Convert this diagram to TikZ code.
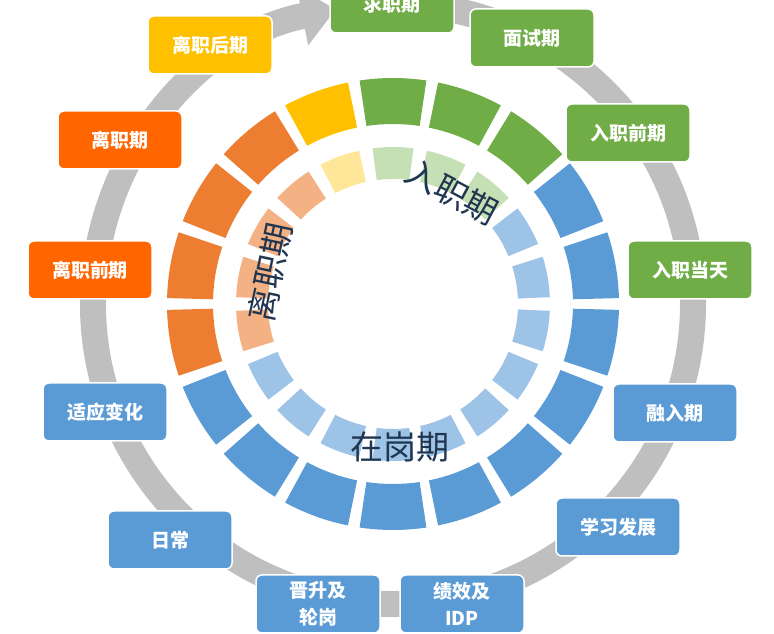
\documentclass[tikz,border=0pt]{standalone}
\usepackage{fontspec}
\setmainfont{Noto Sans CJK SC}
\usetikzlibrary{arrows.meta,calc}
\definecolor{cgreen}{HTML}{70AD47}
\definecolor{cblue}{HTML}{5B9BD5}
\definecolor{corange}{HTML}{ED7D31}
\definecolor{cred}{HTML}{FF6600}
\definecolor{cyellow}{HTML}{FFC000}
\definecolor{lgreen}{HTML}{C5E0B4}
\definecolor{lblue}{HTML}{9DC3E6}
\definecolor{lorange}{HTML}{F4B183}
\definecolor{lyellow}{HTML}{FFE699}
\definecolor{navy}{HTML}{1F3550}
\definecolor{ring}{HTML}{BFBFBF}
\begin{document}
\begin{tikzpicture}[x=1pt,y=1pt]
  \tikzset{
    box/.style={draw=white, line width=1.5pt, rounded corners=6pt, minimum width=124pt, minimum height=58pt, text=white, font=\fontsize{19}{27}\selectfont\bfseries, align=center},
    phase/.style={text=navy, font=\fontsize{33}{33}\selectfont},
  }
  \useasboundingbox (0,0) rectangle (774,634);
  \coordinate (c) at (393,330);
  % grey cycle
  \draw [ring, line width=26pt, -{Triangle[width=58pt,length=34pt]}] ($(c)+(85:300)$) arc (85:-259:300);
  % segments
  \foreach \k in {0,...,17}{
    \pgfmathsetmacro{\a}{90-20*\k}
    \ifnum\k<3 \def\co{cgreen}\def\ci{lgreen}\else
    \ifnum\k<13 \def\co{cblue}\def\ci{lblue}\else
    \ifnum\k<17 \def\co{corange}\def\ci{lorange}\else
    \def\co{cyellow}\def\ci{lyellow}\fi\fi\fi
    \fill [\co] ($(c)+(\a-8.5:226)$) arc (\a-8.5:\a+8.5:226) -- ($(c)+(\a+8.5:180)$) arc (\a+8.5:\a-8.5:180) -- cycle;
    \fill [\ci] ($(c)+(\a-7.5:157)$) arc (\a-7.5:\a+7.5:157) -- ($(c)+(\a+7.5:125)$) arc (\a+7.5:\a-7.5:125) -- cycle;
  }
  % phase labels
  \node [phase, rotate=-28] (pin) at (452,442) {入职期};
  \node [phase, rotate=78] (pleave) at (270,362) {离职期};
  \node [phase] (pon) at (400,187) {在岗期};
  % stages
  \node [box, fill=cgreen] (seek) at (392,630) {求职期};
  \node [box, fill=cgreen] (interview) at (532,596) {面试期};
  \node [box, fill=cgreen] (pre) at (628,501) {入职前期};
  \node [box, fill=cgreen] (day) at (690,364) {入职当天};
  \node [box, fill=cblue] (merge) at (675,221) {融入期};
  \node [box, fill=cblue] (learn) at (618,107) {学习发展};
  \node [box, fill=cblue] (idp) at (462,30) {绩效及\\IDP};
  \node [box, fill=cblue] (promo) at (318,30) {晋升及\\轮岗};
  \node [box, fill=cblue] (daily) at (170,94) {日常};
  \node [box, fill=cblue] (adapt) at (105,222) {适应变化};
  \node [box, fill=cred] (preleave) at (90,364) {离职前期};
  \node [box, fill=cred] (leave) at (120,494) {离职期};
  \node [box, fill=cyellow] (after) at (210,589) {离职后期};
\end{tikzpicture}
\end{document}
